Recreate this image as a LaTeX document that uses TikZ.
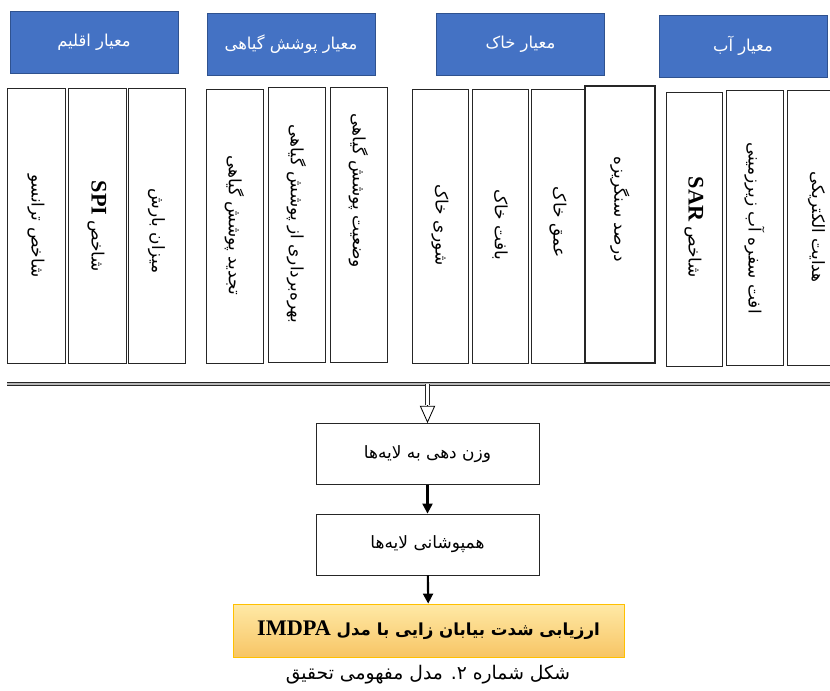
\documentclass[tikz,border=0pt]{standalone}
\usepackage{fontspec}
\setmainfont{Liberation Serif}
\newfontfamily\persianfont[Script=Arabic]{DejaVu Sans}
\TeXXeTstate=1
\usepackage{tikz}
\usetikzlibrary{arrows.meta, positioning}
\definecolor{critblue}{HTML}{4472C4}
\definecolor{critedge}{HTML}{2F528F}
\definecolor{restop}{HTML}{FFE9A6}
\definecolor{resbot}{HTML}{F7C565}
\definecolor{resedge}{HTML}{FFC000}
\newcommand\fatxt[1]{{\persianfont\beginR #1\endR}}
\newcommand\latb[1]{\beginL{\rmfamily\bfseries\fontsize{19}{21}\selectfont #1}\endL}

\begin{document}
\begin{tikzpicture}[x=0.3mm, y=-0.3mm,
	crit/.style={draw=critedge, fill=critblue, text=white, line width=0.6pt,
		minimum width=50.4mm, minimum height=18.6mm, font=\fontsize{14}{16}\selectfont},
	colbox/.style={draw=black!85, fill=white},
	coltext/.style={rotate=-90, inner sep=0pt, font=\fontsize{14.5}{16}\selectfont},
	procbox/.style={draw=black!85, line width=0.7pt, minimum width=66.9mm,
		minimum height=18.3mm, font=\fontsize{14.5}{16}\selectfont},
	result/.style={draw=resedge, line width=0.7pt, top color=restop, bottom color=resbot,
		minimum width=117.3mm, minimum height=15.9mm, font=\fontsize{14.2}{16}\selectfont},
	bus/.style={draw=black!85, line width=0.7pt, double=gray!55, double distance=1.8pt},
	shaft/.style={draw=black!85, line width=0.7pt, double=white, double distance=2.6pt},
	flow/.style={-{Triangle[length=3mm,width=3mm]}, line width=1.8pt}]
	\useasboundingbox (0,0) rectangle (830,690);

	% criteria
	\node[crit] (hclim) at (94,42.5) {\fatxt{معیار اقلیم}};
	\node[crit] (hveg) at (291,44) {\fatxt{معیار پوشش گیاهی}};
	\node[crit] (hsoil) at (520.5,44) {\fatxt{معیار خاک}};
	\node[crit] (hwater) at (743,46) {\fatxt{معیار آب}};

	% indicators
	\foreach \n/\xl/\xr/\yt/\yb/\ty/\lw/\txt in {
		1/7/65/88/363/226/0.7/{شاخص ترانسو},
		2/68/126/88/363/226/0.7/{شاخص \latb{SPI}},
		3/128/185/88/363/231/0.7/{میزان بارش},
		4/206/263/89/363/225/0.7/{تجدید پوشش گیاهی},
		5/268/325/87/362/224/0.7/{بهره‌برداری از پوشش گیاهی},
		6/330/387/87/362/191/0.7/{وضعیت پوشش گیاهی},
		7/412/468/89/363/225/0.7/{شوری خاک},
		8/472/528/89/363/225/0.7/{بافت خاک},
		9/531/585/89/363/222/0.7/{عمق خاک},
		10/585/655/86/363/209/1.3/{درصد سنگریزه},
		11/666/722/92/366/227/0.7/{شاخص \latb{SAR}},
		12/726/783/90/365/228/0.7/{افت سفره آب زیرزمینی},
		13/787/846/90/365/227/0.7/{هدایت الکتریکی}} {
		\node[colbox, line width=\lw pt, minimum width={(\xr-\xl)*0.3mm},
			minimum height={(\yb-\yt)*0.3mm}] (c\n) at ({(\xl+\xr)/2},{(\yt+\yb)/2}) {};
		\node[coltext] (t\n) at ({(\xl+\xr)/2},\ty) {\fatxt{\txt}};
	}

	\coordinate (busL) at (7,384);
	\coordinate (busR) at (834,384);
	\coordinate (tiplevel) at (0,405);
	\draw[bus] (busL) -- (busR);

	% process
	\node[procbox] (weight) at (427.5,454) {\fatxt{وزن دهی به لایه‌ها}};
	\node[procbox] (overlay) at (427.5,544.5) {\fatxt{همپوشانی لایه‌ها}};
	\node[result] (imdpa) at (428.5,630.5) {\fatxt{\bfseries ارزیابی شدت بیابان زایی با مدل \latb{IMDPA}}};
	\node (cap) at (428,675) {\fatxt{\fontsize{16}{18}\selectfont شکل شماره ۲. مدل مفهومی تحقیق}};

	\draw[shaft] (weight.north |- busL) -- (weight.north |- tiplevel);
	\draw[-{Triangle[fill=white,length=5.2mm,width=4.6mm]}, line width=0.7pt]
		(weight.north |- tiplevel) -- (weight.north);
	\draw[flow] (weight) -- (overlay);
	\draw[flow] (overlay) -- (imdpa);
\end{tikzpicture}
\end{document}
